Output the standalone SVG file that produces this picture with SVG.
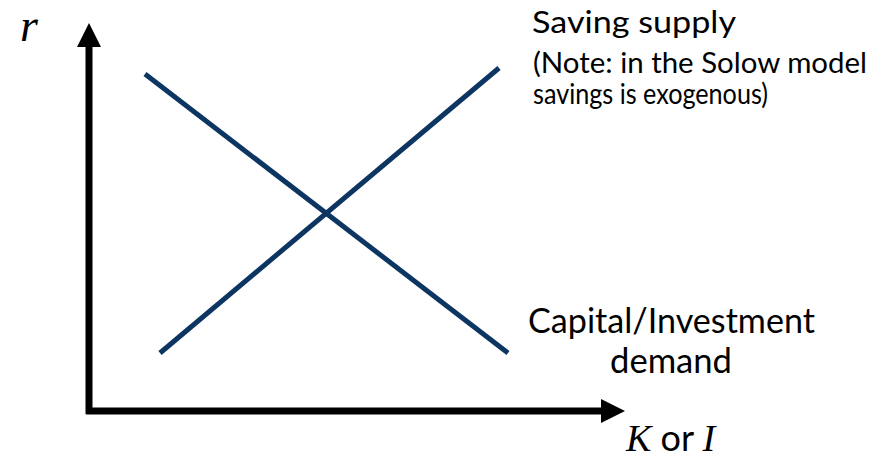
<svg xmlns="http://www.w3.org/2000/svg" width="884" height="461" viewBox="0 0 884 461">
<style>
.lbl{font-family:Lato,"Liberation Sans","Noto Sans",sans-serif;fill:#000}
.math{font-family:"Liberation Serif","DejaVu Serif",serif;font-style:italic;fill:#000}
.curve{stroke:#0D3562;stroke-width:5;fill:none}
.axis{stroke:#000;stroke-width:7;fill:none}
</style>
<rect width="884" height="461" fill="#fff"/>
<g id="axes">
<line class="axis" x1="89" y1="45" x2="89" y2="414"/>
<line class="axis" x1="86" y1="411" x2="602" y2="411"/>
<polygon points="89,23 77,47 101,47" fill="#000"/>
<polygon points="625,411 601,399 601,423" fill="#000"/>
</g>
<g id="connectors">
<line id="demand" class="curve" x1="145" y1="74" x2="508" y2="353"/>
<line id="supply" class="curve" x1="160" y1="353" x2="499" y2="68"/>
</g>
<g id="r-label"><text class="math" x="20" y="41" font-size="46">r</text></g>
<g id="x-label"><text x="626" y="451" font-size="38"><tspan class="math">K</tspan><tspan class="lbl" font-size="36"> or </tspan><tspan class="math">I</tspan></text></g>
<g id="saving-label">
<text class="lbl" x="532" y="33" font-size="31" textLength="204" lengthAdjust="spacingAndGlyphs">Saving supply</text>
<text class="lbl" x="533" y="73" font-size="28" textLength="334" lengthAdjust="spacingAndGlyphs">(Note: in the Solow model</text>
<text class="lbl" x="533" y="104" font-size="28" textLength="235" lengthAdjust="spacingAndGlyphs">savings is exogenous)</text>
</g>
<g id="demand-label">
<text class="lbl" x="528" y="333" font-size="35" textLength="287" lengthAdjust="spacingAndGlyphs">Capital/Investment</text>
<text class="lbl" x="610" y="373" font-size="35" textLength="122" lengthAdjust="spacingAndGlyphs">demand</text>
</g>
</svg>
